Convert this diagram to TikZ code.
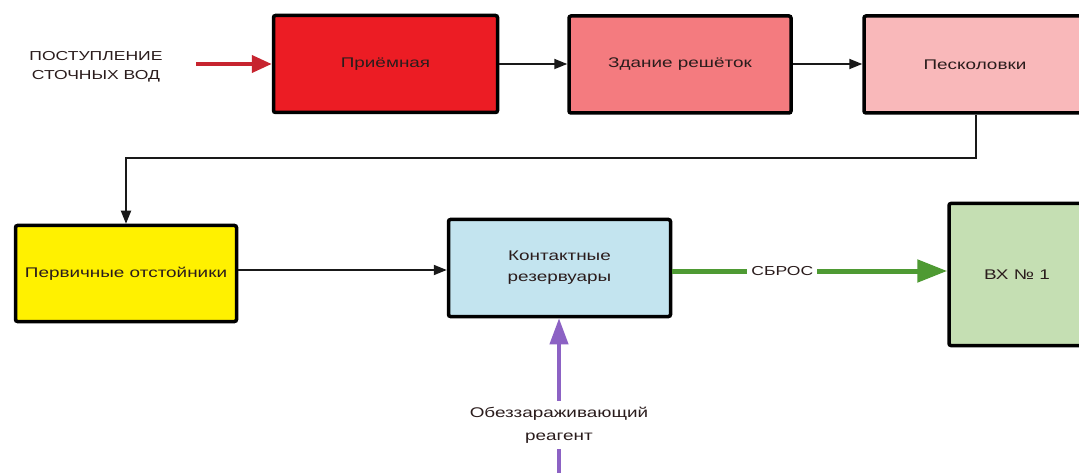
\documentclass[tikz,border=0pt]{standalone}
\usepackage{fontspec}
\setmainfont{Liberation Sans}
\newfontfamily\lab[FakeStretch=1.35]{Liberation Sans}
\usetikzlibrary{arrows.meta}
\definecolor{cRed}{HTML}{EC1C24}
\definecolor{cPink}{HTML}{F47B7F}
\definecolor{cLpink}{HTML}{F9B8BA}
\definecolor{cYel}{HTML}{FFF100}
\definecolor{cBlue}{HTML}{C3E4EF}
\definecolor{cLgreen}{HTML}{C5DFB3}
\definecolor{cGreen}{HTML}{4E9A33}
\definecolor{cPurple}{HTML}{8C62C4}
\definecolor{cArrRed}{HTML}{C7242F}
\definecolor{cText}{HTML}{2A1C1C}
\begin{document}
\begin{tikzpicture}[x=1pt,y=-1pt,
  box/.style={draw=black, line width=3.5pt, rounded corners=2pt, inner sep=2pt,
    font=\lab\fontsize{14}{21}\selectfont, text=cText, align=center},
  lbl/.style={font=\lab\fontsize{13}{19}\selectfont, text=cText, align=center},
  flow/.style={draw=black!90, line width=1.8pt, -{Triangle[length=13pt,width=10pt]}},
  redarr/.style={draw=cArrRed, line width=4pt, -{Triangle[length=20pt,width=17pt]}},
  greenarr/.style={draw=cGreen, line width=5pt, -{Triangle[length=30pt,width=22pt]}},
  purparr/.style={draw=cPurple, line width=4pt, -{Triangle[length=26pt,width=18pt]}}
]
\useasboundingbox[fill=white] (0,0) rectangle (1079,473);
% boxes
\node[box, fill=cRed, minimum width=224pt, minimum height=97pt] (pr) at (385.5,64) {Приёмная};
\node[box, fill=cPink, minimum width=222pt, minimum height=97pt] (zd) at (680,64.5) {Здание решёток};
\node[box, fill=cLpink, minimum width=222pt, minimum height=97pt] (pe) at (975,64.5) {Песколовки};
\node[box, fill=cYel, minimum width=221pt, minimum height=96pt] (po) at (126,273.5) {Первичные отстойники};
\node[box, fill=cBlue, minimum width=222pt, minimum height=97pt] (ko) at (559.5,268) {Контактные\\резервуары};
\node[box, fill=cLgreen, minimum width=136pt, minimum height=142pt] (vx) at (1017,274.5) {ВХ № 1};
% inflow label
\node[lbl] (in) at (96,67) {ПОСТУПЛЕНИЕ\\СТОЧНЫХ ВОД};
\coordinate (inS) at (196,64);
\draw[redarr] (inS) -- (pr.west |- inS);
% flows
\coordinate (r1) at (0,64);
\draw[flow] (pr.east |- r1) -- (zd.west |- r1);
\draw[flow] (zd.east |- r1) -- (pe.west |- r1);
\coordinate (tp) at (976,158);
\draw[flow] (pe.south -| tp) -- (tp) -- (po.north |- tp) -- (po.north);
\coordinate (mid) at (0,270);
\draw[flow] (po.east |- mid) -- (ko.west |- mid);
\coordinate (gm) at (0,271);
\draw[greenarr] (ko.east |- gm) -- node[pos=0.4, fill=white, inner sep=4pt, lbl] (sb) {СБРОС} (vx.west |- gm);
% reagent
\coordinate (rb) at (559,478);
\draw[purparr] (rb) -- node[pos=0.33, fill=white, inner ysep=6pt, inner xsep=2pt, lbl, font=\lab\fontsize{14}{23}\selectfont] (rg) {Обеззараживающий\\реагент} (ko.south -| rb);
\end{tikzpicture}
\end{document}
